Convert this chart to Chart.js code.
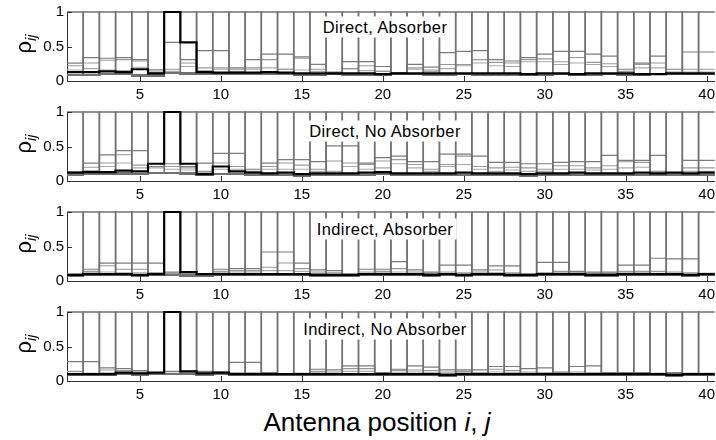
<!DOCTYPE html>
<html>
<head>
<meta charset="utf-8">
<script src="https://cdn.jsdelivr.net/npm/chart.js@4.4.1/dist/chart.umd.min.js"></script>
<style>
  body { margin: 0; background: #fff; }
  #wrap { position: relative; width: 716px; height: 440px; overflow: hidden; font-family: "Liberation Sans", Arial, sans-serif; color: #000; }
  canvas { position: absolute; left: 0; }
  .tag { position: absolute; left: 385px; background: #fff; font-size: 16.5px; letter-spacing: 0.4px; padding: 1px 3px; transform: translate(-50%, -50%); white-space: nowrap; z-index: 2; }
  .ylab { position: absolute; left: 25px; font-size: 22px; transform: translate(-50%, -50%) rotate(-90deg); white-space: nowrap; z-index: 2; }
  .ylab sub { font-size: 15px; font-style: italic; }
  #xtitle { position: absolute; left: 377px; top: 422px; transform: translate(-50%, -50%); font-size: 26px; white-space: nowrap; }
</style>
</head>
<body>
<div id="wrap">
  <div id="xtitle">Antenna position <i>i</i>, <i>j</i></div>
</div>
<script>
// antenna positions (categories) and axis ticks
const positions = [1,2,3,4,5,6,7,8,9,10,11,12,13,14,15,16,17,18,19,20,21,22,23,24,25,26,27,28,29,30,31,32,33,34,35,36,37,38,39,40];
const xTicks = [5,10,15,20,25,30,35,40];
const yTicks = [0,0.5,1];
const highlighted = 7;     // the series drawn in black
const selfCorr = 1;        // rho_ii
const panelTitles = ['Direct, Absorber', 'Direct, No Absorber', 'Indirect, Absorber', 'Indirect, No Absorber'];

// Direct, Absorber
const black1 = [0.13,0.13,0.14,0.13,0.17,0.11,1.00,0.56,0.13,0.12,0.12,0.12,0.13,0.12,0.11,0.11,0.11,0.11,0.11,0.10,0.11,0.11,0.11,0.11,0.11,0.11,0.11,0.11,0.10,0.11,0.11,0.10,0.11,0.11,0.11,0.10,0.10,0.11,0.11,0.11];
const hi1 = [0.26,0.34,0.33,0.34,0.31,0.16,0.56,0.31,0.44,0.44,0.19,0.31,0.39,0.39,0.35,0.24,0.13,0.28,0.28,0.21,0.12,0.24,0.20,0.41,0.43,0.44,0.31,0.29,0.34,0.39,0.43,0.43,0.39,0.36,0.17,0.26,0.36,0.17,0.42,0.42];
const mid1 = [0.22,0.26,0.30,0.31,0.29,0.13,0.17,0.26,0.19,0.19,0.17,0.19,0.31,0.17,0.33,0.17,0.12,0.18,0.22,0.14,0.11,0.19,0.16,0.24,0.24,0.31,0.27,0.26,0.31,0.32,0.28,0.34,0.27,0.25,0.14,0.24,0.26,0.13,0.17,0.17];
const low1 = [0.16,0.18,0.16,0.15,0.20,0.12,0.14,0.21,0.15,0.17,0.14,0.17,0.19,0.17,0.16,0.14,0.12,0.18,0.15,0.14,0.11,0.17,0.14,0.18,0.22,0.26,0.22,0.21,0.28,0.28,0.24,0.26,0.24,0.21,0.13,0.19,0.19,0.12,0.13,0.13];
const floor1 = [0.09,0.09,0.10,0.10,0.08,0.08,0.12,0.11,0.10,0.10,0.10,0.10,0.10,0.10,0.09,0.09,0.10,0.09,0.09,0.09,0.10,0.10,0.09,0.09,0.10,0.09,0.09,0.09,0.09,0.09,0.10,0.09,0.09,0.10,0.09,0.09,0.10,0.10,0.10,0.10];

// Direct, No Absorber
const black2 = [0.12,0.13,0.13,0.15,0.14,0.25,1.00,0.25,0.10,0.21,0.14,0.12,0.11,0.12,0.10,0.11,0.11,0.11,0.12,0.13,0.11,0.11,0.11,0.11,0.12,0.11,0.11,0.11,0.10,0.11,0.11,0.12,0.11,0.11,0.11,0.12,0.11,0.12,0.11,0.12];
const hi2 = [0.13,0.26,0.38,0.44,0.44,0.21,0.25,0.21,0.26,0.40,0.40,0.17,0.26,0.31,0.31,0.28,0.51,0.51,0.26,0.34,0.36,0.28,0.28,0.39,0.39,0.36,0.27,0.27,0.25,0.25,0.27,0.28,0.28,0.37,0.30,0.30,0.37,0.12,0.30,0.30];
const mid2 = [0.12,0.20,0.26,0.38,0.23,0.21,0.21,0.19,0.14,0.26,0.21,0.14,0.21,0.26,0.23,0.17,0.29,0.26,0.24,0.29,0.31,0.24,0.17,0.24,0.36,0.21,0.19,0.20,0.19,0.17,0.22,0.22,0.19,0.22,0.28,0.27,0.14,0.12,0.19,0.19];
const low2 = [0.11,0.15,0.21,0.26,0.19,0.19,0.17,0.16,0.12,0.17,0.17,0.13,0.17,0.17,0.17,0.14,0.14,0.21,0.17,0.19,0.25,0.19,0.14,0.21,0.24,0.17,0.14,0.16,0.14,0.14,0.17,0.17,0.16,0.17,0.19,0.20,0.13,0.12,0.14,0.14];
const floor2 = [0.09,0.10,0.10,0.11,0.10,0.12,0.12,0.11,0.09,0.10,0.10,0.09,0.09,0.09,0.08,0.09,0.09,0.09,0.09,0.10,0.09,0.09,0.09,0.09,0.09,0.09,0.09,0.09,0.08,0.09,0.09,0.09,0.09,0.09,0.09,0.09,0.09,0.09,0.09,0.09];

// Indirect, Absorber
const black3 = [0.09,0.10,0.10,0.10,0.09,0.10,1.00,0.13,0.10,0.10,0.10,0.10,0.10,0.10,0.10,0.09,0.09,0.09,0.10,0.10,0.10,0.10,0.09,0.10,0.09,0.10,0.10,0.09,0.09,0.10,0.10,0.10,0.09,0.09,0.10,0.10,0.10,0.10,0.09,0.10];
const hi3 = [0.10,0.17,0.26,0.26,0.26,0.26,0.13,0.10,0.10,0.17,0.18,0.18,0.42,0.42,0.26,0.16,0.15,0.10,0.17,0.17,0.28,0.16,0.13,0.23,0.23,0.16,0.22,0.22,0.10,0.27,0.27,0.14,0.13,0.13,0.23,0.23,0.33,0.32,0.32,0.11];
const mid3 = [0.09,0.14,0.22,0.17,0.17,0.12,0.11,0.09,0.09,0.14,0.15,0.15,0.20,0.26,0.18,0.13,0.12,0.09,0.13,0.14,0.18,0.13,0.11,0.13,0.12,0.13,0.16,0.12,0.09,0.12,0.14,0.12,0.11,0.11,0.14,0.14,0.14,0.13,0.12,0.10];
const low3 = [0.08,0.12,0.13,0.12,0.12,0.11,0.09,0.08,0.08,0.12,0.13,0.13,0.15,0.15,0.14,0.11,0.10,0.08,0.11,0.12,0.13,0.11,0.10,0.11,0.10,0.11,0.12,0.10,0.08,0.10,0.12,0.10,0.09,0.09,0.12,0.12,0.11,0.11,0.10,0.09];
const floor3 = [0.08,0.09,0.09,0.09,0.08,0.09,0.09,0.08,0.08,0.09,0.09,0.09,0.09,0.09,0.09,0.08,0.08,0.08,0.09,0.09,0.09,0.09,0.08,0.09,0.08,0.09,0.09,0.08,0.08,0.09,0.09,0.09,0.08,0.08,0.09,0.09,0.09,0.09,0.08,0.09];

// Indirect, No Absorber
const black4 = [0.10,0.10,0.10,0.12,0.11,0.12,1.00,0.14,0.11,0.12,0.10,0.10,0.10,0.10,0.10,0.10,0.10,0.10,0.10,0.10,0.10,0.10,0.10,0.09,0.10,0.10,0.10,0.10,0.10,0.10,0.10,0.10,0.10,0.10,0.10,0.10,0.10,0.09,0.10,0.10];
const hi4 = [0.28,0.28,0.19,0.18,0.15,0.12,0.14,0.14,0.14,0.13,0.27,0.27,0.12,0.10,0.11,0.17,0.16,0.22,0.22,0.12,0.17,0.22,0.20,0.16,0.16,0.16,0.21,0.21,0.18,0.19,0.13,0.21,0.22,0.12,0.12,0.12,0.11,0.12,0.11,0.11];
const mid4 = [0.14,0.11,0.16,0.15,0.13,0.11,0.11,0.13,0.12,0.11,0.12,0.12,0.11,0.09,0.10,0.14,0.13,0.18,0.18,0.11,0.15,0.16,0.15,0.13,0.14,0.12,0.17,0.15,0.13,0.12,0.11,0.13,0.12,0.11,0.11,0.11,0.10,0.11,0.10,0.10];
const low4 = [0.11,0.10,0.12,0.12,0.11,0.10,0.10,0.11,0.10,0.10,0.10,0.10,0.10,0.09,0.09,0.12,0.11,0.14,0.14,0.10,0.12,0.13,0.12,0.11,0.12,0.11,0.13,0.12,0.11,0.11,0.10,0.11,0.11,0.10,0.10,0.10,0.09,0.10,0.09,0.09];
const floor4 = [0.09,0.09,0.09,0.10,0.09,0.10,0.10,0.10,0.09,0.10,0.09,0.09,0.09,0.09,0.09,0.09,0.09,0.09,0.09,0.09,0.09,0.09,0.09,0.08,0.09,0.09,0.09,0.09,0.09,0.09,0.09,0.09,0.09,0.09,0.09,0.09,0.09,0.08,0.09,0.09];

const panels = [
  { black: black1, hi: hi1, mid: mid1, low: low1, floor: floor1 },
  { black: black2, hi: hi2, mid: mid2, low: low2, floor: floor2 },
  { black: black3, hi: hi3, mid: mid3, low: low3, floor: floor3 },
  { black: black4, hi: hi4, mid: mid4, low: low4, floor: floor4 }
];

// stairs: each value spans its position +-0.5
function stairs(vals) {
  const pts = [{ x: positions[0] - 0.5, y: vals[0] }];
  vals.forEach((v, i) => pts.push({ x: positions[i] + 0.5, y: v }));
  return pts;
}

function line(vals, color, width, order) {
  return {
    data: stairs(vals),
    borderColor: color,
    borderWidth: width,
    stepped: 'after',
    pointRadius: 0,
    fill: false,
    clip: false,
    order: order
  };
}

// inward tick marks like the original axes
const innerTicks = {
  id: 'innerTicks',
  afterDatasetsDraw(chart) {
    const { ctx, chartArea: a, scales: { x, y } } = chart;
    ctx.save();
    ctx.strokeStyle = '#333';
    ctx.lineWidth = 1;
    ctx.beginPath();
    x.ticks.forEach(t => {
      const px = Math.round(x.getPixelForValue(t.value)) + 0.5;
      ctx.moveTo(px, a.bottom);
      ctx.lineTo(px, a.bottom - 5);
    });
    y.ticks.forEach(t => {
      const py = Math.round(y.getPixelForValue(t.value)) + 0.5;
      ctx.moveTo(a.left, py);
      ctx.lineTo(a.left + 5, py);
    });
    ctx.stroke();
    ctx.restore();
  }
};

const wrap = document.getElementById('wrap');
const tickFont = { family: "'Liberation Sans', Arial, sans-serif", size: 15 };

panels.forEach((p, k) => {
  const canvas = document.createElement('canvas');
  canvas.width = 720;
  canvas.height = 110;
  canvas.style.top = (100 * k) + 'px';
  wrap.appendChild(canvas);

  const tag = document.createElement('div');
  tag.className = 'tag';
  tag.textContent = panelTitles[k];
  tag.style.top = [27, 131, 229, 329][k] + 'px';
  wrap.appendChild(tag);

  const ylab = document.createElement('div');
  ylab.className = 'ylab';
  ylab.innerHTML = '&rho;<sub>ij</sub>';
  ylab.style.top = (100 * k + 44) + 'px';
  wrap.appendChild(ylab);

  const datasets = [];
  datasets.push(line(p.black, '#000', 2.2, 0));
  positions.forEach(j => {
    const series = p.floor.map((v, i) => positions[i] === j ? selfCorr : v);
    if (j !== highlighted) datasets.push(line(series, '#727272', 1.5, 1));
  });
  datasets.push(line(p.hi, '#7c7c7c', 1.2, 2));
  datasets.push(line(p.mid, '#999999', 1.1, 3));
  datasets.push(line(p.low, '#aaaaaa', 1.1, 4));

  new Chart(canvas, {
    type: 'line',
    data: { datasets },
    options: {
      responsive: false,
      animation: false,
      layout: { padding: { top: 10, left: 0, right: 0, bottom: 0 } },
      plugins: { legend: { display: false }, tooltip: { enabled: false } },
      scales: {
        x: {
          type: 'linear',
          min: positions[0] - 0.5,
          max: positions[positions.length - 1] + 0.5,
          afterBuildTicks: s => { s.ticks = xTicks.map(v => ({ value: v })); },
          afterFit: s => { s.height = 29; },
          grid: { display: false, drawTicks: false },
          border: { display: true, color: '#333', width: 1 },
          ticks: { color: '#000', font: tickFont, padding: 5, maxRotation: 0, callback: v => String(v) }
        },
        y: {
          min: 0,
          max: 1,
          afterBuildTicks: s => { s.ticks = yTicks.map(v => ({ value: v })); },
          afterFit: s => { s.width = 67; },
          grid: { display: false, drawTicks: false },
          border: { display: true, color: '#333', width: 1 },
          ticks: { color: '#000', font: tickFont, padding: 3, callback: v => String(v) }
        }
      }
    },
    plugins: [innerTicks]
  });
});
</script>
</body>
</html>
